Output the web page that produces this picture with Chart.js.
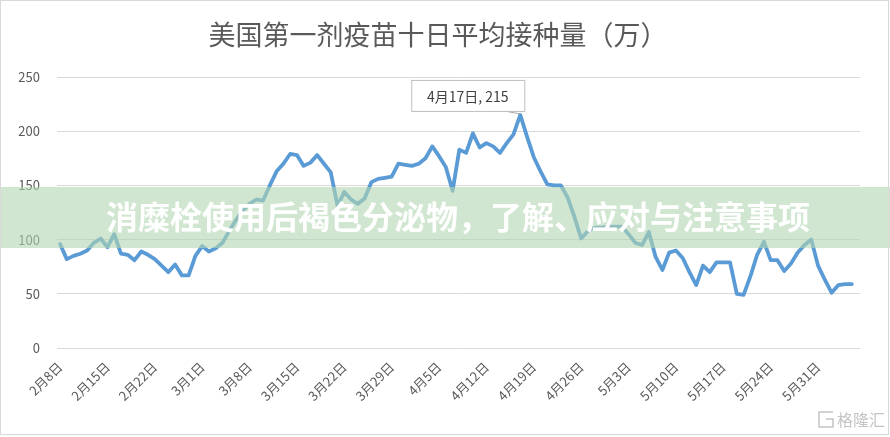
<!DOCTYPE html>
<html>
<head>
<meta charset="utf-8">
<script src="https://cdn.jsdelivr.net/npm/chart.js@4.4.1/dist/chart.umd.min.js"></script>
<style>
  html, body { margin: 0; padding: 0; background: #fff; }
  #wrap { position: relative; width: 890px; height: 437px; }
</style>
</head>
<body>
<div id="wrap"><canvas id="c"></canvas></div>
<script>
const chartTitle = "美国第一剂疫苗十日平均接种量（万）";
const bannerText = "消糜栓使用后褐色分泌物，了解、应对与注意事项";
const watermark = "格隆汇";

// daily 10-day average of first doses (10k), from Feb 8 to Jun 5
const doses = [
  96, 82, 85, 87, 90, 97, 101, 93, 105, 87,
  86, 81, 89, 86, 82, 76, 70, 77, 67, 67,
  85, 94, 89, 92, 97, 108, 118, 127, 133, 137,
  136, 150, 163, 170, 179, 178, 168, 171, 178, 170,
  162, 131, 144, 137, 133, 138, 153, 156, 157, 158,
  170, 169, 168, 170, 175, 186, 177, 167, 145, 183,
  180, 198, 185, 189, 186, 180, 189, 197, 215, 195,
  176, 163, 151, 150, 150, 139, 121, 101, 108, 111,
  111, 112, 112, 112, 105, 97, 95, 107, 84, 72,
  88, 90, 83, 70, 58, 76, 70, 79, 79, 79,
  50, 49, 66, 86, 98, 81, 81, 71, 78, 88,
  95, 100, 76, 63, 51, 58, 59, 59
];

// category labels: one per day starting Feb 8
const monthDays = [31, 28, 31, 30, 31, 30];
const dates = [];
let m = 2, d = 8;
for (let i = 0; i < doses.length; i++) {
  dates.push(m + "月" + d + "日");
  d++;
  if (d > monthDays[m - 1]) { d = 1; m++; }
}

const xTickIdx = [0, 7, 14, 21, 28, 35, 42, 49, 56, 63, 70, 77, 84, 91, 98, 105, 112];
const yTicks = [0, 50, 100, 150, 200, 250];
const peakIdx = 68;

const cjk = '"Noto Sans CJK SC", "Noto Sans", sans-serif';

const decor = {
  id: "decor",
  beforeDraw(chart) {
    const ctx = chart.ctx;
    ctx.save();
    ctx.fillStyle = "#595959";
    ctx.font = "27px " + cjk;
    ctx.textAlign = "center";
    ctx.textBaseline = "middle";
    ctx.fillText(chartTitle, 438, 35);
    ctx.restore();
  },
  afterDatasetsDraw(chart) {
    const ctx = chart.ctx;
    const pt = chart.getDatasetMeta(0).data[peakIdx];
    const px = pt.x, py = pt.y;
    const bw = 113, bh = 31;
    const bx = px + 4 - bw, by = py - 4 - bh;
    ctx.save();
    ctx.strokeStyle = "#a6a6a6";
    ctx.lineWidth = 1;
    ctx.beginPath();
    ctx.moveTo(px - 16, by + bh);
    ctx.lineTo(px, py - 1);
    ctx.stroke();
    ctx.fillStyle = "#fff";
    ctx.fillRect(bx, by, bw, bh);
    ctx.strokeStyle = "#bfbfbf";
    ctx.strokeRect(bx + 0.5, by + 0.5, bw, bh);
    ctx.fillStyle = "#404040";
    ctx.font = "14px " + cjk;
    ctx.textAlign = "center";
    ctx.textBaseline = "middle";
    ctx.fillText(dates[peakIdx] + ", " + doses[peakIdx], bx + bw / 2, by + bh / 2 + 1);
    ctx.restore();
  },
  afterDraw(chart) {
    const ctx = chart.ctx;
    ctx.save();
    // overlay banner
    ctx.fillStyle = "rgba(178, 214, 176, 0.6)";
    ctx.fillRect(0, 187, 890, 61);
    ctx.fillStyle = "#ffffff";
    ctx.font = "bold 32px " + cjk;
    ctx.textAlign = "center";
    ctx.textBaseline = "middle";
    ctx.fillText(bannerText, 458, 217);
    // outer frame
    ctx.strokeStyle = "#d9d9d9";
    ctx.lineWidth = 1;
    ctx.strokeRect(0.5, 0.5, 888, 434);
    // watermark
    ctx.strokeStyle = "#c4c4c4";
    ctx.lineWidth = 1.5;
    ctx.beginPath();
    ctx.moveTo(833, 412);
    ctx.lineTo(819, 412);
    ctx.lineTo(819, 427);
    ctx.lineTo(833, 427);
    ctx.lineTo(833, 419);
    ctx.lineTo(826, 419);
    ctx.stroke();
    ctx.fillStyle = "#c4c4c4";
    ctx.font = "16px " + cjk;
    ctx.textAlign = "left";
    ctx.fillText(watermark, 837, 420);
    ctx.restore();
  }
};

new Chart(document.getElementById("c"), {
  type: "line",
  data: {
    datasets: [{
      data: doses.map((v, i) => ({ x: i, y: v })),
      borderColor: "#5b9bd5",
      borderWidth: 3.8,
      pointRadius: 0,
      tension: 0,
      borderJoinStyle: "round",
      borderCapStyle: "round",
      fill: false
    }]
  },
  options: {
    responsive: true,
    maintainAspectRatio: false,
    animation: false,
    events: [],
    layout: { padding: { top: 77, right: 30, bottom: 0, left: 0 } },
    plugins: { legend: { display: false }, tooltip: { enabled: false }, title: { display: false } },
    scales: {
      x: {
        type: "linear",
        min: -0.45,
        max: 118.2,
        afterBuildTicks: (axis) => { axis.ticks = xTickIdx.map((v) => ({ value: v })); },
        afterFit: (axis) => { axis.height = 89; },
        grid: { display: false },
        border: { display: false },
        ticks: {
          autoSkip: false,
          maxRotation: 45,
          minRotation: 45,
          padding: 3,
          color: "#595959",
          font: { size: 13, family: cjk },
          callback: (v) => dates[v]
        }
      },
      y: {
        min: 0,
        max: 250,
        afterBuildTicks: (axis) => { axis.ticks = yTicks.map((v) => ({ value: v })); },
        afterFit: (axis) => { axis.width = 57; },
        grid: { color: "#d9d9d9", lineWidth: 1, drawTicks: false },
        border: { display: false },
        ticks: {
          padding: 17,
          color: "#595959",
          font: { size: 13, family: cjk }
        }
      }
    }
  },
  plugins: [decor]
});
</script>
</body>
</html>
